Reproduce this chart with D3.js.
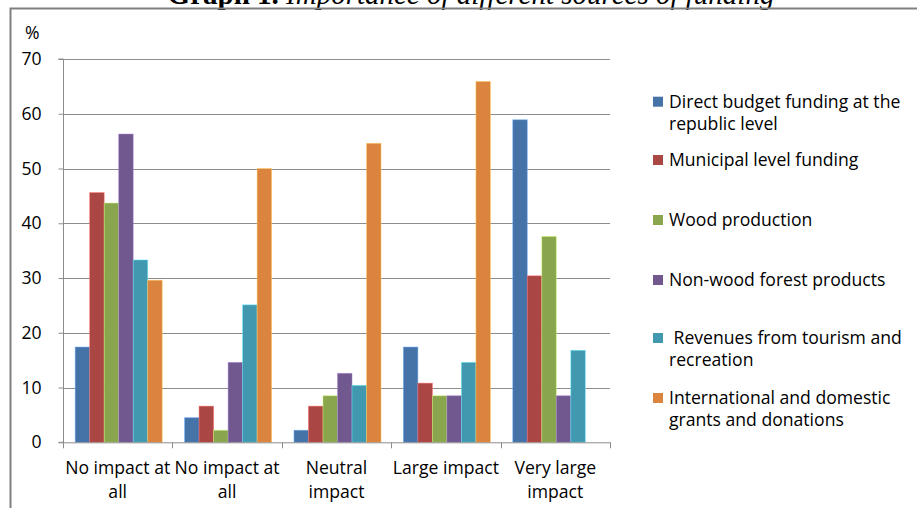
<!DOCTYPE html>
<html><head><meta charset="utf-8">
<script src="https://cdn.jsdelivr.net/npm/d3@7"></script>
<style>
body{margin:0;background:#fff;}
svg{display:block;}
text{font-family:"Open Sans",sans-serif;fill:#000;}
</style></head>
<body>
<svg id="chart" width="917" height="508"></svg>
<script>
const categories = [["No impact at","all"],["No impact at","all"],["Neutral","impact"],["Large impact"],["Very large","impact"]];
const seriesNames = [["Direct budget funding at the","republic level"],["Municipal level funding"],["Wood production"],["Non-wood forest products"],[" Revenues from tourism and","recreation"],["International and domestic","grants and donations"]];
const colors = ["#4572A7","#AA4643","#89A54E","#71588F","#4198AF","#DB843D"];
const directBudget = [17.4, 4.5, 2.2, 17.4, 58.9];
const municipal = [45.6, 6.6, 6.6, 10.8, 30.4];
const wood = [43.7, 2.2, 8.5, 8.5, 37.6];
const nonWood = [56.3, 14.6, 12.6, 8.5, 8.5];
const tourism = [33.3, 25.1, 10.4, 14.6, 16.8];
const grants = [29.6, 50.0, 54.6, 65.9, 0];
const yTicks = [0,10,20,30,40,50,60,70];
const series = [directBudget, municipal, wood, nonWood, tourism, grants];

const svg = d3.select("#chart");
const pL = 63, pR = 610, pT = 59, pB = 442.3;
const fs = "17.6px";

// title (cropped at top, as in the source page)
const title = svg.append("text").attr("x", 471).attr("y", 4).attr("text-anchor","middle")
  .style("font-family","'Liberation Serif',serif").style("font-size","29px");
title.append("tspan").style("font-weight","bold").text("Graph 1. ");
title.append("tspan").style("font-style","italic").text("Importance of different sources of funding");

// frame
svg.append("path").attr("d","M10.5,508 V8.5 H917").attr("fill","none").attr("stroke","#808080").attr("stroke-width",2);

const idx = d3.range(categories.length);
const x = d3.scaleBand().domain(idx).range([pL,pR]).padding(0);
const xi = d3.scaleBand().domain(d3.range(series.length)).range([0,x.bandwidth()]).paddingInner(0).paddingOuter(0.77);
const y = d3.scaleLinear().domain([0,70]).range([pB,pT]);

// gridlines
svg.append("g").selectAll("line").data(yTicks.filter(d=>d>0)).join("line")
  .attr("x1",pL).attr("x2",pR).attr("y1",d=>Math.round(y(d))+0.5).attr("y2",d=>Math.round(y(d))+0.5)
  .attr("stroke","#8c8c8c").attr("stroke-width",1);

// bars
series.forEach((vals,si)=>{
  svg.append("g").selectAll("rect").data(vals).join("rect")
    .attr("x",(d,i)=>x(i)+xi(si)+1)
    .attr("width",xi.bandwidth())
    .attr("y",d=>y(d))
    .attr("height",d=>pB-y(d))
    .attr("fill",colors[si])
    .attr("stroke", d3.color(colors[si]).brighter(1.2))
    .attr("stroke-width",0.8)
    .attr("stroke-opacity", 0.6);
});

// y axis
const yAxis = d3.axisLeft(y).tickValues(yTicks).tickSize(5).tickPadding(17);
const gy = svg.append("g").attr("transform",`translate(${pL+0.5},0)`).call(yAxis);
gy.select(".domain").attr("stroke","#8c8c8c").attr("d",`M-5,${pT}H0V${pB}H-5`);
gy.selectAll(".tick line").attr("stroke","#8c8c8c");
gy.selectAll(".tick text").style("font-family","'Open Sans',sans-serif").style("font-size",fs).attr("fill","#000");

// x axis
svg.append("line").attr("x1",pL).attr("x2",pR).attr("y1",pB+0.5).attr("y2",pB+0.5).attr("stroke","#8c8c8c");
svg.append("g").selectAll("line").data(d3.range(categories.length+1)).join("line")
  .attr("x1",d=>Math.round(pL + d*x.step())+0.5).attr("x2",d=>Math.round(pL + d*x.step())+0.5)
  .attr("y1",pB).attr("y2",pB+6).attr("stroke","#8c8c8c");
const xl = svg.append("g").selectAll("text").data(categories).join("text")
  .attr("text-anchor","middle").style("font-size",fs)
  .attr("transform",(d,i)=>`translate(${x(i)+x.bandwidth()/2},${474})`);
xl.selectAll("tspan").data(d=>d).join("tspan").attr("x",0).attr("dy",(d,j)=>j?24:0).text(d=>d);

// % label
svg.append("text").attr("x",25).attr("y",39).style("font-size",fs).text("%");

// legend
const legY = [101.7,160,220,280,338,398];
const lg = svg.append("g").selectAll("g").data(seriesNames).join("g")
  .attr("transform",(d,i)=>`translate(653,${legY[i]})`);
lg.append("rect").attr("x",0).attr("y",-5).attr("width",10).attr("height",10).attr("fill",(d,i)=>colors[i]);
lg.append("text").style("font-size",fs).attr("x",16).attr("y",6)
  .selectAll("tspan").data(d=>d).join("tspan").attr("x",16).attr("dy",(d,j)=>j?22:0).style("white-space","pre").text(d=>d);
</script>
</body></html>
